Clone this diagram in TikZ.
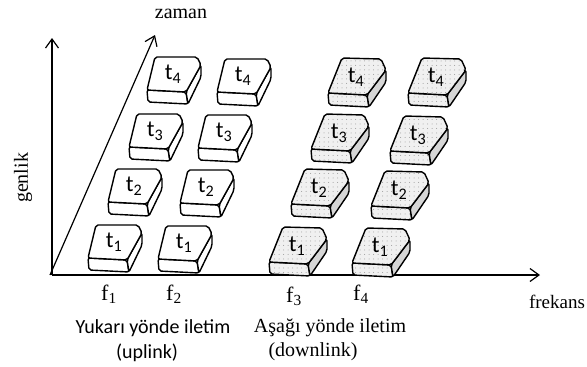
\documentclass[tikz,border=0pt]{standalone}
\usepackage{fontspec}
\setmainfont{Liberation Serif}
\newfontfamily\calib{Carlito}
\usetikzlibrary{patterns.meta,arrows.meta}

\tikzset{
  axisline/.style={line width=1.2pt, -{Straight Barb[length=9pt,width=13pt,line width=1.2pt]}},
  faceline/.style={line width=1.4pt, line join=round, rounded corners=2pt},
  tlab/.style={font=\calib\fontsize{23}{23}\selectfont, inner sep=0pt},
  serlab/.style={font=\fontsize{20}{22}\selectfont, inner sep=0pt, anchor=base},
  flab/.style={font=\fontsize{22}{24}\selectfont, inner sep=0pt, anchor=base},
  callab/.style={font=\calib\fontsize{20}{22}\selectfont, inner sep=0pt, anchor=base},
  dotfill/.style={pattern={Dots[distance=4.5pt,radius=0.5pt]}, pattern color=gray!80},
}

% white box: #1,#2 front-left corner, #3 index, #4 name
\newcommand\wbox[4]{%
  \begin{scope}[shift={(#1,#2)}]
    \draw[faceline, fill=white] (0,0) -- (1,12) -- (41,14) -- (39,2) -- cycle;
    \draw[faceline, fill=white] (39,2) -- (41,14) -- (54,-13) -- (54,-25) -- cycle;
    \draw[faceline, fill=white] (0,0) -- (8,-33) -- (50,-33) -- (54,-25) -- (39,2) -- cycle;
    \node[tlab] (#4) at (26,-16) {t\textsubscript{#3}};
  \end{scope}}

% grey dotted box
\newcommand\gbox[4]{%
  \begin{scope}[shift={(#1,#2)}]
    \fill[gray!12, rounded corners=2pt] (0,0) -- (1,12) -- (41,14) -- (39,2) -- cycle;
    \fill[dotfill] (0,0) -- (1,12) -- (41,14) -- (39,2) -- cycle;
    \draw[faceline] (0,0) -- (1,12) -- (41,14) -- (39,2) -- cycle;
    \draw[faceline, fill=gray!32] (39,2) -- (41,14) -- (58,-11) -- (58,-23) -- cycle;
    \fill[gray!12, rounded corners=2pt] (0,0) -- (14,-35) -- (53,-34) -- (58,-23) -- (39,2) -- cycle;
    \fill[dotfill] (0,0) -- (14,-35) -- (53,-34) -- (58,-23) -- (39,2) -- cycle;
    \draw[faceline] (0,0) -- (14,-35) -- (53,-34) -- (58,-23) -- (39,2) -- cycle;
    \node[tlab] (#4) at (28,-16) {t\textsubscript{#3}};
  \end{scope}}

\begin{document}
\begin{tikzpicture}[x=1pt,y=-1pt]
\useasboundingbox (0,0) rectangle (587,367);

% axes
\coordinate (O) at (52,275);
\coordinate (Od) at (50,275);
\coordinate (ytip) at (52,38);
\coordinate (ztip) at (155,35);
\coordinate (xtip) at (540,275);
\draw[axisline] (O) -- (ytip);
\draw[axisline] (Od) -- (ztip);
\draw[axisline] (O) -- (xtip);

% axis labels
\node[serlab] (zaman) at (181,18) {zaman};
\node[serlab, font=\fontsize{19}{20}\selectfont] (frekans) at (557,308) {frekans};
\node[font=\fontsize{20}{22}\selectfont, inner sep=0pt, rotate=90] (genlik) at (23,178) {genlik};

% f1 column
\wbox{88}{258}{1}{a1}
\wbox{108}{202}{2}{a2}
\wbox{129}{147}{3}{a3}
\wbox{147}{90}{4}{a4}
% f2 column
\wbox{158}{259}{1}{b1}
\wbox{180}{203}{2}{b2}
\wbox{198}{148}{3}{b3}
\wbox{217}{92}{4}{b4}
% f3 column
\gbox{269}{262}{1}{c1}
\gbox{291}{204}{2}{c2}
\gbox{311}{149}{3}{c3}
\gbox{328}{93}{4}{c4}
% f4 column
\gbox{352}{263}{1}{d1}
\gbox{371}{206}{2}{d2}
\gbox{390}{151}{3}{d3}
\gbox{408}{93}{4}{d4}

% frequency labels
\node[flab] (f1) at (109,300) {f\textsubscript{1}};
\node[flab] (f2) at (174,300) {f\textsubscript{2}};
\node[flab] (f3) at (294,302) {f\textsubscript{3}};
\node[flab] (f4) at (361,300) {f\textsubscript{4}};

% captions
\node[callab] (up1) at (153,333) {Yukarı yönde iletim};
\node[callab] (up2) at (147,358) {(uplink)};
\node[serlab] (dn1) at (330,332) {Aşağı yönde iletim};
\node[serlab] (dn2) at (313,356) {(downlink)};
\end{tikzpicture}
\end{document}
